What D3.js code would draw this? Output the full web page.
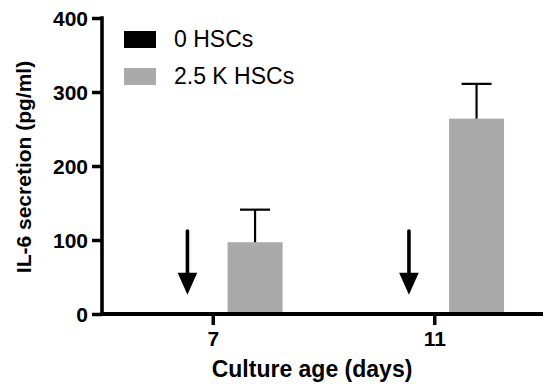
<!DOCTYPE html>
<html>
<head>
<meta charset="utf-8">
<script src="https://cdn.jsdelivr.net/npm/d3@7"></script>
<style>
  html, body { margin: 0; padding: 0; background: #fff; }
  svg { display: block; font-family: "Liberation Sans", Arial, sans-serif; }
</style>
</head>
<body>
<svg id="chart" width="543" height="384"></svg>
<script>
// Culture age groups and the two HSC conditions
const days = ["7", "11"];
const series = ["0 HSCs", "2.5 K HSCs"];
const colors = ["#000000", "#aaaaaa"];
// Mean IL-6 secretion (pg/ml) per condition, per day
const zeroHSC = [0, 0];
const hsc25k = [97, 264];
// Upper error (mean + SD)
const hsc25kErr = [141, 311];
const yTicks = [0, 100, 200, 300, 400];
// Arrow marks for undetected values (pg/ml range along the y axis)
const arrowTop = 112, arrowTip = 26;

const svg = d3.select("#chart");
const axisX = 102, baseY = 314, topY = 18;
const fontFam = "Liberation Sans, Arial, sans-serif";

const x = d3.scalePoint().domain(days).range([axisX, 545]).padding(0.5);
const sub = d3.scaleBand().domain(series).range([-69.8, 69.8]).paddingInner(0.35).paddingOuter(0);
const y = d3.scaleLinear().domain([0, 400]).range([baseY, topY]);

const values = [zeroHSC, hsc25k];

// Bars
series.forEach((s, si) => {
  svg.append("g").selectAll("rect")
    .data(days.map((d, i) => ({ d, v: values[si][i] })))
    .join("rect")
    .attr("x", p => x(p.d) + sub(s))
    .attr("width", sub.bandwidth())
    .attr("y", p => y(p.v))
    .attr("height", p => y(0) - y(p.v))
    .attr("fill", colors[si]);
});

// Error bars (upper only)
const eg = svg.append("g").attr("stroke", "#000").attr("stroke-width", 2.2);
days.forEach((d, i) => {
  const cx = x(d) + sub(series[1]) + sub.bandwidth() / 2;
  eg.append("line").attr("x1", cx).attr("x2", cx).attr("y1", y(hsc25k[i])).attr("y2", y(hsc25kErr[i]));
  eg.append("line").attr("x1", cx - 15).attr("x2", cx + 15).attr("y1", y(hsc25kErr[i])).attr("y2", y(hsc25kErr[i]));
});

// Arrows pointing at the zero-valued bars
days.forEach((d, i) => {
  const ax = x(d) + sub(series[0]) + sub.bandwidth() / 2 + 17;
  const headTop = y(arrowTip) - 22;
  svg.append("line").attr("x1", ax).attr("x2", ax)
    .attr("y1", y(arrowTop)).attr("y2", headTop + 2)
    .attr("stroke", "#000").attr("stroke-width", 3.6).attr("stroke-linecap", "round");
  svg.append("path")
    .attr("d", `M${ax - 9.8},${headTop} L${ax + 9.8},${headTop} L${ax},${y(arrowTip)} Z`)
    .attr("fill", "#000");
});

// Y axis
const yAxis = svg.append("g").attr("transform", `translate(${axisX},0)`)
  .call(d3.axisLeft(y).tickValues(yTicks).tickSize(10).tickPadding(4));
yAxis.select(".domain").remove();
yAxis.selectAll(".tick line").attr("stroke", "#000").attr("stroke-width", 3.5);
yAxis.selectAll(".tick text").attr("font-size", 21).attr("font-weight", "bold").attr("fill", "#000")
  .attr("font-family", fontFam).attr("dy", "0.36em");
svg.append("line").attr("x1", axisX).attr("x2", axisX).attr("y1", topY - 1.75).attr("y2", baseY)
  .attr("stroke", "#000").attr("stroke-width", 3.6);

// X axis
const xAxis = svg.append("g").attr("transform", `translate(0,${baseY})`)
  .call(d3.axisBottom(x).tickSize(11).tickPadding(6));
xAxis.select(".domain").remove();
xAxis.selectAll(".tick line").attr("stroke", "#000").attr("stroke-width", 3.5);
xAxis.selectAll(".tick text").attr("font-size", 21).attr("font-weight", "bold").attr("fill", "#000")
  .attr("font-family", fontFam);
svg.append("line").attr("x1", axisX - 1.8).attr("x2", 543).attr("y1", baseY).attr("y2", baseY)
  .attr("stroke", "#000").attr("stroke-width", 4);

// Axis titles
svg.append("text").attr("x", 312).attr("y", 377).attr("text-anchor", "middle")
  .attr("font-size", 23).attr("font-weight", "bold").text("Culture age (days)");
svg.append("text").attr("transform", "translate(31,167) rotate(-90)").attr("text-anchor", "middle")
  .attr("font-size", 21).attr("font-weight", "bold").text("IL-6 secretion (pg/ml)");

// Legend
const lg = svg.append("g");
series.forEach((s, i) => {
  const ly = 31 + i * 37;
  lg.append("rect").attr("x", 124).attr("y", ly).attr("width", 32).attr("height", 17).attr("fill", colors[i]);
  lg.append("text").attr("x", 174).attr("y", ly + 16).attr("font-size", 23).attr("fill", "#000").text(s);
});
</script>
</body>
</html>
